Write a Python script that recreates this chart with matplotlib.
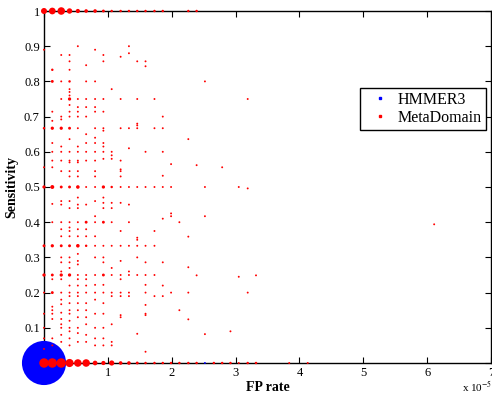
import numpy as np
import matplotlib
matplotlib.use('Agg')
import matplotlib.pyplot as plt
from matplotlib import ticker
from matplotlib.lines import Line2D

plt.rcParams['font.family'] = 'Liberation Serif'
plt.rcParams['mathtext.fontset'] = 'stix'

# FP rate columns (x 1e-5)
cols = [0.00, 0.13, 0.27, 0.40, 0.53, 0.66, 0.80, 0.93, 1.06, 1.20, 1.33, 1.46, 1.59,
        1.73, 1.86, 1.99, 2.12, 2.26, 2.39, 2.52, 2.66, 2.79, 2.92, 3.05, 3.19, 3.32]

# MetaDomain counts at sensitivity 1 and 0, per column
top_counts = [15, 19, 24, 12, 7, 5, 5, 3, 2, 2, 2, 2, 2, 2, 2, 0, 0, 2, 2]
bottom_counts = [38, 38, 38, 28, 24, 24, 9, 7, 11, 5, 5, 3, 2, 2, 2, 2, 2, 2, 2, 0,
                 2, 2, 2, 1, 2, 2]
bottom_extra_fp = [3.84, 4.13]

# single MetaDomain families inside the plot, per column
md_small = [
    [0.89, 0.556, 0.2, 0.14, 0.1, 0.07, 0.04],
    [0.714, 0.688, 0.625, 0.60, 0.575, 0.556, 0.452, 0.40, 0.238, 0.16, 0.15, 0.14, 0.125, 0.07, 0.05],
    [0.875, 0.80, 0.75, 0.70, 0.692, 0.615, 0.60, 0.575, 0.545, 0.46, 0.45, 0.40, 0.38, 0.36, 0.30,
     0.286, 0.26, 0.238, 0.20, 0.18, 0.167, 0.143, 0.125, 0.11, 0.10, 0.08, 0.06],
    [0.875, 0.857, 0.833, 0.778, 0.77, 0.76, 0.733, 0.714, 0.70, 0.636, 0.60, 0.575, 0.57, 0.545,
     0.53, 0.46, 0.44, 0.40, 0.385, 0.375, 0.36, 0.30, 0.286, 0.27, 0.22, 0.20, 0.19, 0.17, 0.15,
     0.14, 0.12, 0.10, 0.09, 0.07, 0.05],
    [0.90, 0.75, 0.727, 0.714, 0.70, 0.667, 0.615, 0.60, 0.575, 0.57, 0.545, 0.53, 0.47, 0.45, 0.44,
     0.40, 0.38, 0.36, 0.31, 0.29, 0.28, 0.25, 0.238, 0.22, 0.20, 0.19, 0.17, 0.15, 0.13, 0.10,
     0.085, 0.06],
    [0.846, 0.80, 0.75, 0.727, 0.70, 0.65, 0.625, 0.60, 0.575, 0.50, 0.45, 0.38, 0.36, 0.25, 0.238,
     0.22, 0.20, 0.17, 0.15, 0.13, 0.11, 0.08, 0.06],
    [0.89, 0.80, 0.75, 0.727, 0.714, 0.667, 0.64, 0.625, 0.60, 0.575, 0.545, 0.53, 0.50, 0.46, 0.417,
     0.40, 0.36, 0.333, 0.30, 0.25, 0.222, 0.20, 0.18, 0.14, 0.10, 0.07, 0.05],
    [0.875, 0.857, 0.75, 0.714, 0.667, 0.66, 0.625, 0.615, 0.60, 0.58, 0.47, 0.455, 0.44, 0.333,
     0.30, 0.286, 0.222, 0.20, 0.17, 0.14, 0.10, 0.07, 0.05],
    [0.778, 0.60, 0.59, 0.58, 0.455, 0.44, 0.40, 0.333, 0.27, 0.25, 0.20, 0.19, 0.11, 0.06, 0.05],
    [0.87, 0.75, 0.667, 0.575, 0.55, 0.545, 0.53, 0.50, 0.455, 0.375, 0.333, 0.29, 0.25, 0.238,
     0.20, 0.19, 0.136, 0.13],
    [0.90, 0.88, 0.667, 0.61, 0.50, 0.45, 0.40, 0.333, 0.26, 0.25, 0.20, 0.19],
    [0.857, 0.75, 0.68, 0.675, 0.667, 0.50, 0.356, 0.35, 0.333, 0.30, 0.25, 0.083],
    [0.857, 0.843, 0.60, 0.50, 0.333, 0.286, 0.25, 0.222, 0.20, 0.165, 0.14, 0.136, 0.032],
    [0.75, 0.667, 0.50, 0.375, 0.333, 0.25, 0.19],
    [0.70, 0.667, 0.60, 0.532, 0.50, 0.41, 0.286, 0.22, 0.19],
    [0.565, 0.50, 0.425, 0.417, 0.20],
    [0.40, 0.15],
    [0.636, 0.359, 0.272, 0.20, 0.124],
    [0.562, 0.249],
    [0.80, 0.50, 0.417, 0.082],
    [],
    [0.556],
    [0.09],
    [0.50, 0.245],
    [0.75, 0.496, 0.20],
    [0.249],
]

# larger MetaDomain groups inside the plot: (FP rate, sensitivity, count)
md_big = [(0.00, 0.667, 2), (0.00, 0.5, 4), (0.00, 0.333, 3), (0.00, 0.25, 4),
          (0.13, 0.833, 2), (0.13, 0.80, 3), (0.13, 0.667, 4), (0.13, 0.5, 6),
          (0.13, 0.333, 4), (0.13, 0.25, 3), (0.13, 0.2, 3),
          (0.27, 0.667, 4), (0.27, 0.5, 3), (0.27, 0.333, 3), (0.27, 0.25, 4),
          (0.40, 0.80, 2), (0.40, 0.75, 4), (0.40, 0.667, 3), (0.40, 0.5, 3),
          (0.40, 0.333, 3), (0.40, 0.25, 4),
          (0.53, 0.5, 5), (0.53, 0.333, 5), (0.66, 0.4, 3), (0.66, 0.333, 2),
          (0.93, 0.5, 4), (0.93, 0.4, 3), (0.93, 0.25, 3), (1.06, 0.5, 2),
          (6.11, 0.394, 1)]

# HMMER3: (FP rate, sensitivity, count)
hmmer = [(0.00, 0.0, 840), (2.52, 0.0, 1)]

# collect MetaDomain points
mx, my, mc = [], [], []
for i, c in enumerate(top_counts):
    if c:
        mx.append(cols[i]); my.append(1.0); mc.append(c)
for i, c in enumerate(bottom_counts):
    if c:
        mx.append(cols[i]); my.append(0.0); mc.append(c)
for x in bottom_extra_fp:
    mx.append(x); my.append(0.0); mc.append(1)
for i, ys in enumerate(md_small):
    for y in ys:
        mx.append(cols[i]); my.append(y); mc.append(1)
for x, y, c in md_big:
    mx.append(x); my.append(y); mc.append(c)

scale = 1.2
f = plt.figure(figsize=(4.92, 3.96), dpi=100)
ax = f.add_axes([44/492., 33/396., 447/492., 352/396.])

hx, hy, hc = zip(*hmmer)
ax.scatter(hx, hy, s=(np.array(hc)+0.6)*scale, color='#0000ff', linewidths=0,
           clip_on=False, zorder=3)
ax.scatter(mx, my, s=(np.array(mc)+0.6)*scale, color='#ff0000', linewidths=0,
           clip_on=False, zorder=4)

ax.set_xlim(0, 7)
ax.set_ylim(0, 1)
ax.xaxis.set_major_locator(ticker.MultipleLocator(1))
ax.yaxis.set_major_locator(ticker.MultipleLocator(0.1))
ax.yaxis.set_major_formatter(ticker.FormatStrFormatter('%g'))
ax.tick_params(direction='in', top=True, right=True, length=4, width=0.8,
               labelsize=9, pad=3)
for sp in ax.spines.values():
    sp.set_linewidth(1.0)

ax.set_xlabel('FP rate', fontsize=10, fontweight='bold', labelpad=1)
ax.set_ylabel('Sensitivity', fontsize=10, fontweight='bold', labelpad=4)
f.text(0.94, 0.012, r'x 10$^{-5}$', fontsize=8)

handles = [Line2D([], [], ls='none', marker='s', ms=1.5, color='#0000ff'),
           Line2D([], [], ls='none', marker='s', ms=1.5, color='#ff0000')]
leg = ax.legend(handles, ['HMMER3', 'MetaDomain'], loc='center right',
                bbox_to_anchor=(0.989, 0.722), borderaxespad=0, fontsize=11.5,
                fancybox=False, edgecolor='black', framealpha=1, borderpad=0.25,
                labelspacing=0.1, handletextpad=0.15, handlelength=2.0)
leg.get_frame().set_linewidth(1.0)

f.savefig('out.png', dpi=100)
